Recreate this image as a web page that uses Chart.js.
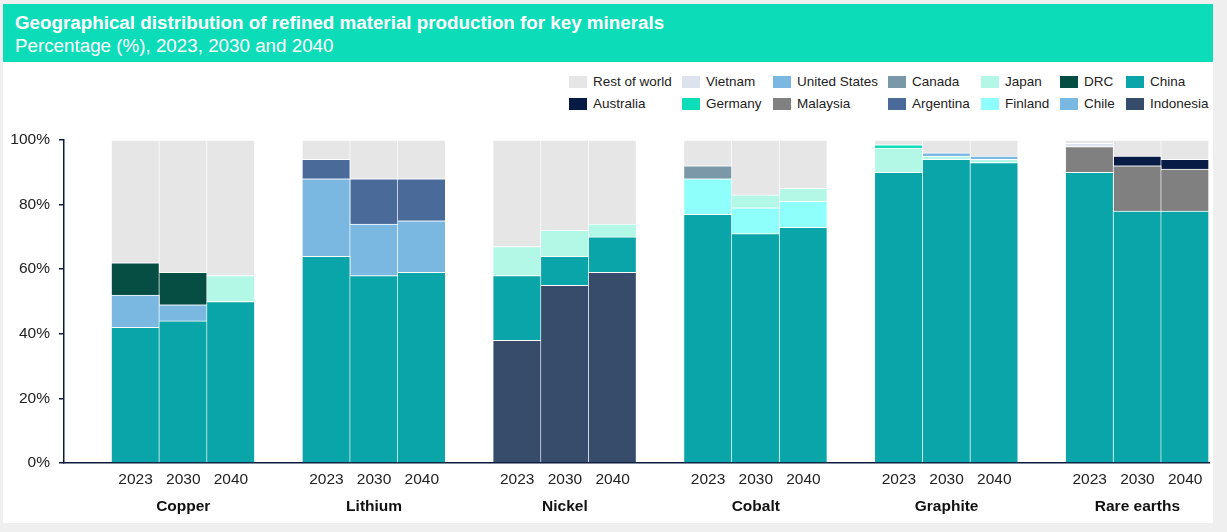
<!DOCTYPE html>
<html>
<head>
<meta charset="utf-8">
<script src="https://cdn.jsdelivr.net/npm/chart.js@4.4.1/dist/chart.umd.min.js"></script>
<style>
  html, body { margin: 0; padding: 0; }
  body { width: 1227px; height: 532px; background: #efefef; font-family: "Liberation Sans", Arial, sans-serif; position: relative; overflow: hidden; }
  #card { position: absolute; left: 3px; top: 4px; width: 1210px; height: 519px; background: #fff; }
  #head { position: absolute; left: 3px; top: 4px; width: 1210px; height: 58px; background: #0ddcb9; color: #fff; }
  #title { position: absolute; left: 12px; top: 8px; font-size: 18.8px; font-weight: bold; white-space: nowrap; }
  #sub { position: absolute; left: 12px; top: 31px; font-size: 18.8px; white-space: nowrap; }
  #legend { position: absolute; left: 0; top: 0; }
  .li { position: absolute; height: 14px; font-size: 13.5px; color: #222; white-space: nowrap; line-height: 14px; }
  .li span.b { position: absolute; left: 0; top: 1px; width: 18px; height: 12px; }
  .li span.t { position: absolute; left: 24px; top: 0; }
  canvas { position: absolute; left: 0; top: 62px; }
</style>
</head>
<body>
<div id="card"></div>
<div id="head">
  <div id="title">Geographical distribution of refined material production for key minerals</div>
  <div id="sub">Percentage (%), 2023, 2030 and 2040</div>
</div>
<div id="legend"></div>
<canvas id="chart" width="1227" height="463"></canvas>
<script>
var minerals = ["Copper", "Lithium", "Nickel", "Cobalt", "Graphite", "Rare earths"];
var years = ["2023", "2030", "2040"];
var yTicks = [0, 20, 40, 60, 80, 100];

// values per bar: Copper 23/30/40, Lithium 23/30/40, Nickel, Cobalt, Graphite, Rare earths
var indonesia = [0, 0, 0,   0, 0, 0,    38, 55, 59,  0, 0, 0,    0, 0, 0,     0, 0, 0];
var china     = [42, 44, 50, 64, 58, 59, 20, 9, 11,  77, 71, 73, 90, 94, 93,  90, 78, 78];
var chile     = [10, 5, 0,  24, 16, 16, 0, 0, 0,     0, 0, 0,    0, 0, 0,     0, 0, 0];
var malaysia  = [0, 0, 0,   0, 0, 0,    0, 0, 0,     0, 0, 0,    0, 0, 0,     8, 14, 13];
var finland   = [0, 0, 0,   0, 0, 0,    0, 0, 0,     11, 8, 8,   0, 0, 0,     0, 0, 0];
var japan     = [0, 0, 8,   0, 0, 0,    9, 8, 4,     0, 4, 4,    7.5, 1, 1,   0, 0, 0];
var argentina = [0, 0, 0,   6, 14, 13,  0, 0, 0,     0, 0, 0,    0, 0, 0,     0, 0, 0];
var drc       = [10, 10, 0, 0, 0, 0,    0, 0, 0,     0, 0, 0,    0, 0, 0,     0, 0, 0];
var australia = [0, 0, 0,   0, 0, 0,    0, 0, 0,     0, 0, 0,    0, 0, 0,     0, 3, 3];
var germany   = [0, 0, 0,   0, 0, 0,    0, 0, 0,     0, 0, 0,    1, 0, 0,     0, 0, 0];
var unitedStates = [0, 0, 0, 0, 0, 0,   0, 0, 0,     0, 0, 0,    0, 1, 1,     0, 0, 0];
var canada    = [0, 0, 0,   0, 0, 0,    0, 0, 0,     4, 0, 0,    0, 0, 0,     0, 0, 0];
var vietnam   = [0, 0, 0,   0, 0, 0,    0, 0, 0,     0, 0, 0,    0, 0, 0,     1, 0, 0];
var restOfWorld = [38, 41, 42, 6, 12, 12, 33, 28, 26, 8, 17, 15, 1.5, 4, 5,  1, 5, 6];

// stacking order bottom -> top
var series = [
  ["Indonesia", indonesia, "#374b6b"],
  ["China", china, "#0aa5a8"],
  ["Chile", chile, "#7ab8e2"],
  ["Malaysia", malaysia, "#808080"],
  ["Finland", finland, "#8ffffc"],
  ["Japan", japan, "#b3f7e6"],
  ["Argentina", argentina, "#4a6a9a"],
  ["DRC", drc, "#064d43"],
  ["Australia", australia, "#071b44"],
  ["Germany", germany, "#0ddcb9"],
  ["United States", unitedStates, "#7ab8e2"],
  ["Canada", canada, "#7a98a8"],
  ["Vietnam", vietnam, "#dde3ee"],
  ["Rest of world", restOfWorld, "#e6e6e6"]
];
var legendOrder = ["Rest of world", "Vietnam", "United States", "Canada", "Japan", "DRC", "China",
                   "Australia", "Germany", "Malaysia", "Argentina", "Finland", "Chile", "Indonesia"];

// one empty slot in front of every mineral group
var yearLabels = [], mineralLabels = [];
minerals.forEach(function (m) {
  yearLabels.push("");
  mineralLabels.push("");
  years.forEach(function (y, j) {
    yearLabels.push(y);
    mineralLabels.push(j == 1 ? m : "");
  });
});

function spread(vals) {
  var out = [];
  for (var i = 0; i < minerals.length; i++) {
    out.push(null);
    for (var j = 0; j < 3; j++) {
      var v = vals[i * 3 + j];
      out.push(v ? v : null);
    }
  }
  return out;
}

var datasets = series.map(function (s) {
  return {
    label: s[0],
    data: spread(s[1]),
    backgroundColor: s[2],
    borderColor: "#ffffff",
    borderWidth: { top: 1, right: 1, left: 0, bottom: 0 },
    borderSkipped: false,
    barPercentage: 1,
    categoryPercentage: 1
  };
});

var font = "'Liberation Sans', Arial, sans-serif";
var axisColor = "#0b1a3c";

var chart = new Chart(document.getElementById("chart"), {
  type: "bar",
  data: { labels: yearLabels, datasets: datasets },
  options: {
    responsive: false,
    animation: false,
    layout: { padding: { top: 78, right: 18, left: 0, bottom: 0 } },
    plugins: { legend: { display: false }, tooltip: { enabled: false } },
    scales: {
      x: {
        stacked: true,
        grid: { display: false, drawTicks: false },
        border: { display: true, color: axisColor, width: 1.5 },
        ticks: { autoSkip: false, maxRotation: 0, padding: 7, color: "#222", font: { family: font, size: 15.5 } },
        afterFit: function (s) { s.height = 30; }
      },
      xm: {
        type: "category",
        labels: mineralLabels,
        position: "bottom",
        offset: true,
        grid: { display: false, drawTicks: false },
        border: { display: false },
        ticks: { autoSkip: false, maxRotation: 0, padding: 4, color: "#111", font: { family: font, size: 15.5, weight: "bold" } },
        afterFit: function (s) { s.height = 32; }
      },
      y: {
        stacked: true,
        min: 0,
        max: 100,
        afterBuildTicks: function (s) { s.ticks = yTicks.map(function (v) { return { value: v }; }); },
        grid: { drawOnChartArea: false, drawTicks: true, tickLength: 5, color: axisColor, lineWidth: 1.5 },
        border: { display: true, color: axisColor, width: 1.5 },
        ticks: {
          padding: 9,
          color: "#222",
          font: { family: font, size: 15.5 },
          callback: function (v) { return v + "%"; }
        },
        afterFit: function (s) { s.width = 64; }
      }
    }
  }
});

// legend, two rows of seven, built from the chart datasets
var colX = [569, 682, 773, 888, 981, 1060, 1126];
var rowY = [75, 97];
var leg = document.getElementById("legend");
legendOrder.forEach(function (name, i) {
  var ds = chart.data.datasets.find(function (d) { return d.label == name; });
  var item = document.createElement("div");
  item.className = "li";
  item.style.left = colX[i % 7] + "px";
  item.style.top = rowY[Math.floor(i / 7)] + "px";
  item.innerHTML = '<span class="b" style="background:' + ds.backgroundColor + '"></span><span class="t">' + name + '</span>';
  leg.appendChild(item);
});
</script>
</body>
</html>
